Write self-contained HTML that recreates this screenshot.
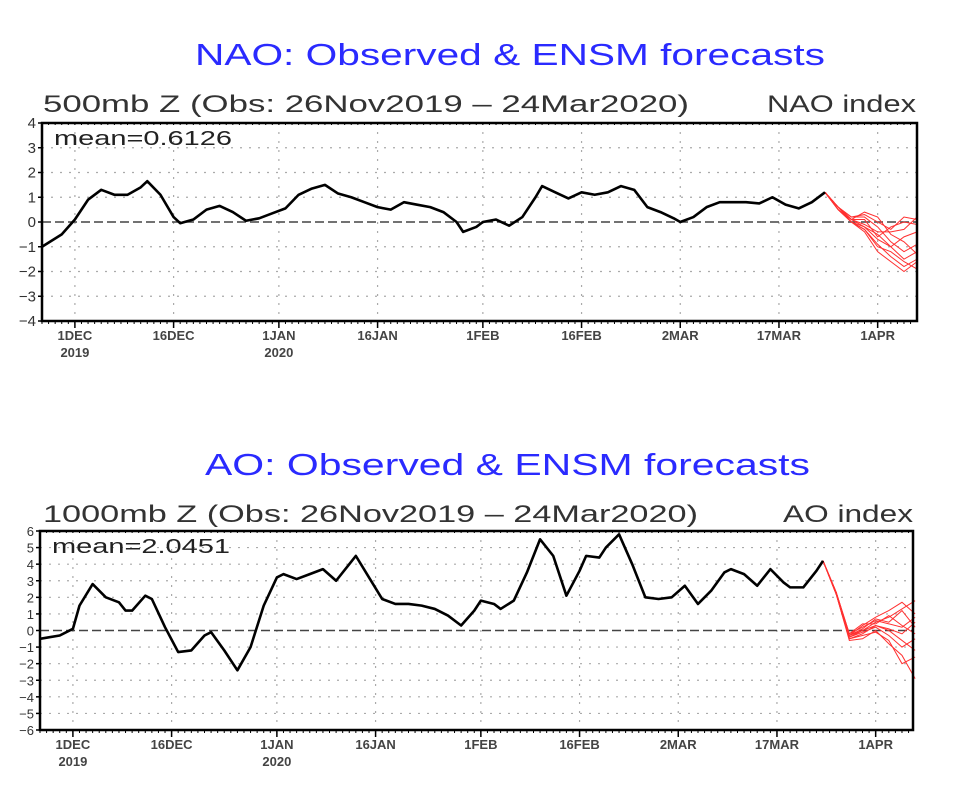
<!DOCTYPE html>
<html><head><meta charset="utf-8">
<style>
html,body{margin:0;padding:0;background:#fff;}
svg{display:block;font-family:"Liberation Sans",sans-serif;}
</style></head>
<body>
<svg id="root" width="954" height="787" viewBox="0 0 954 787">
<text x="195" y="65" font-size="31" fill="#2a2aff" textLength="630" lengthAdjust="spacingAndGlyphs">NAO: Observed &amp; ENSM forecasts</text>
<text x="43" y="112" font-size="24" fill="#333" textLength="646" lengthAdjust="spacingAndGlyphs">500mb Z (Obs: 26Nov2019 – 24Mar2020)</text>
<text x="916" y="112" font-size="24" fill="#333" text-anchor="end" textLength="149" lengthAdjust="spacingAndGlyphs">NAO index</text>
<text x="205" y="475" font-size="31" fill="#2a2aff" textLength="605" lengthAdjust="spacingAndGlyphs">AO: Observed &amp; ENSM forecasts</text>
<text x="43" y="522" font-size="24" fill="#333" textLength="655" lengthAdjust="spacingAndGlyphs">1000mb Z (Obs: 26Nov2019 – 24Mar2020)</text>
<text x="913" y="522" font-size="24" fill="#333" text-anchor="end" textLength="130" lengthAdjust="spacingAndGlyphs">AO index</text>
</svg>
<script>
const dateTickDays=[5,20,36,51,67,82,97,112,127];
const dateTickLabels=["1DEC","16DEC","1JAN","16JAN","1FEB","16FEB","2MAR","17MAR","1APR"];
const yearLabels=["2019","","2020","","","","","",""];
const naoDays=[0,3,5,7,9,11,13,15,16,18,20,21,23,25,27,29,31,33,35,37,39,41,43,45,47,49,51,53,55,57,59,61,63,64,66,67,69,71,73,75,76,78,80,82,84,86,88,90,92,94,96,97,99,101,103,105,107,109,111,113,115,117,119];
const naoValues=[-1.0,-0.5,0.1,0.9,1.3,1.1,1.1,1.4,1.65,1.1,0.2,-0.05,0.1,0.5,0.65,0.4,0.05,0.15,0.35,0.55,1.1,1.35,1.5,1.15,1.0,0.8,0.6,0.5,0.8,0.7,0.6,0.4,0.0,-0.4,-0.2,0.0,0.1,-0.15,0.2,1.0,1.45,1.2,0.95,1.2,1.1,1.2,1.45,1.3,0.6,0.4,0.15,0.0,0.2,0.6,0.8,0.8,0.8,0.75,1.0,0.7,0.55,0.8,1.2];
const aoDays=[0,3,5,6,8,10,12,13,14,16,17,19,21,23,25,26,28,30,32,34,36,37,39,41,43,45,47,48,50,52,54,56,58,60,62,64,66,67,69,70,72,74,76,78,80,82,83,85,86,88,90,92,94,96,98,100,102,104,105,107,109,111,113,114,116,118,119];
const aoValues=[-0.5,-0.3,0.1,1.5,2.8,2.0,1.7,1.2,1.2,2.1,1.9,0.2,-1.3,-1.2,-0.3,-0.1,-1.2,-2.4,-1.0,1.5,3.2,3.4,3.1,3.4,3.7,3.0,4.0,4.5,3.2,1.9,1.6,1.6,1.5,1.3,0.9,0.3,1.2,1.8,1.6,1.3,1.8,3.5,5.5,4.5,2.1,3.6,4.5,4.4,5.0,5.8,4.0,2.0,1.9,2.0,2.7,1.6,2.4,3.5,3.7,3.4,2.7,3.7,2.9,2.6,2.6,3.6,4.2];
const fcDays=[119,121,123,125,127,129,131,133];
const naoMembers=[
[1.2,0.6,0.1,-0.2,-0.5,-1.0,-1.5,-1.2],
[1.2,0.5,0.0,-0.3,-0.9,-1.4,-1.8,-1.5],
[1.2,0.6,0.2,0.3,0.0,-0.3,0.2,0.1],
[1.2,0.5,0.1,-0.1,-0.4,-0.4,-0.3,0.2],
[1.2,0.6,0.0,-0.4,-1.2,-1.6,-2.0,-1.6],
[1.2,0.6,0.2,0.2,-0.2,-0.8,-1.2,-0.9],
[1.2,0.5,0.0,-0.2,-0.7,-1.0,-0.6,-0.4],
[1.2,0.6,0.1,0.4,0.2,-0.5,-0.8,-1.3],
[1.2,0.5,0.0,-0.3,-1.0,-1.2,-1.6,-1.9],
[1.2,0.6,0.1,0.1,-0.6,-0.2,0.0,-0.1]];
const aoMembers=[
[4.2,2.3,-0.3,0.0,0.5,0.8,1.3,1.8],
[4.2,2.2,-0.5,-0.2,0.3,0.0,-0.6,-1.2],
[4.2,2.3,-0.2,0.2,0.6,0.4,0.2,0.8],
[4.2,2.2,-0.6,-0.5,0.0,-0.8,-1.5,-2.9],
[4.2,2.3,-0.3,0.3,0.8,1.2,1.7,1.0],
[4.2,2.2,-0.4,-0.1,0.2,-0.3,-1.0,-0.5],
[4.2,2.3,-0.2,0.4,0.4,0.9,0.3,-0.2],
[4.2,2.2,-0.5,-0.3,-0.1,-0.6,-2.0,-1.6],
[4.2,2.3,-0.3,0.1,0.7,0.5,1.2,0.2],
[4.2,2.2,-0.4,0.0,0.3,0.1,-0.2,0.5]];
const naoMean="mean=0.6126";
const aoMean="mean=2.0451";

const NS="http://www.w3.org/2000/svg";
const root=document.getElementById('root');
function mk(tag,attrs,parent){const e=document.createElementNS(NS,tag);for(const k in attrs)e.setAttribute(k,attrs[k]);(parent||root).appendChild(e);return e;}

function drawChart(p,days,vals,members,mean,prefix){
  const sx=d=>p.x0+d*p.pd;
  const sy=v=>p.y1-(v-p.ymin)/(p.ymax-p.ymin)*(p.y1-p.y0);
  const g=mk('g',{});
  
  
  // grid horizontal
  for(let v=p.ymin+1;v<p.ymax;v++){
    if(v===0)continue;
    const l=mk('line',{x1:p.x0,x2:p.x1,y1:sy(v),y2:sy(v),stroke:'#aaa','stroke-width':1.2,'stroke-dasharray':'2 7'},g);
    
    
  }
  dateTickDays.forEach((d,i)=>{
    const l=mk('line',{x1:sx(d),x2:sx(d),y1:p.y0,y2:p.y1,stroke:'#aaa','stroke-width':1.2,'stroke-dasharray':'2 7'},g);
    
    
    const t=mk('text',{x:sx(d),y:p.y1+19,'font-size':13,'font-weight':'bold',fill:'#444','text-anchor':'middle'},g);
    t.textContent=dateTickLabels[i];
    
    
    if(yearLabels[i]){
      const y=mk('text',{x:sx(d),y:p.y1+36,'font-size':13,'font-weight':'bold',fill:'#444','text-anchor':'middle'},g);
      y.textContent=yearLabels[i];
      
      
    }
    const tk=mk('line',{x1:sx(d),x2:sx(d),y1:p.y1,y2:p.y1+7,stroke:'#000','stroke-width':1.5},g);
    
    
  });
  // minor day ticks
  for(let d=0;p.x0+d*p.pd<=p.x1;d++){
    const tk=mk('line',{x1:sx(d),x2:sx(d),y1:p.y1,y2:p.y1+3,stroke:'#000','stroke-width':1},g);
    
    
    const tt=mk('line',{x1:sx(d),x2:sx(d),y1:p.y0,y2:p.y0+2,stroke:'#000','stroke-width':1},g);
    
    
  }
  // y ticks
  for(let v=p.ymin;v<=p.ymax;v++){
    const t=mk('text',{x:p.x0-6,y:sy(v)+5,'font-size':p.fs,fill:'#333','text-anchor':'end'},g);
    t.textContent=v<0?'\u2212'+(-v):String(v);
    
    
    const tk=mk('line',{x1:p.x0-4,x2:p.x0,y1:sy(v),y2:sy(v),stroke:'#000','stroke-width':1.5},g);
    
    
  }
  // zero line
  const z=mk('line',{x1:p.x0,x2:p.x1,y1:sy(0),y2:sy(0),stroke:'#444','stroke-width':1.5,'stroke-dasharray':'9 4'},g);
  
  
  // members
  members.forEach(m=>{
    const pl=mk('polyline',{points:m.map((v,i)=>sx(fcDays[i])+','+sy(v)).join(' '),fill:'none',stroke:'#ff3030','stroke-width':1},g);
    
    
  });
  // observed
  const ob=mk('polyline',{points:days.map((d,i)=>sx(d)+','+sy(vals[i])).join(' '),fill:'none',stroke:'#000','stroke-width':2.6,'stroke-linejoin':'round'},g);
  
  
  // frame
  const f=mk('rect',{x:p.x0,y:p.y0,width:p.x1-p.x0,height:p.y1-p.y0,fill:'none',stroke:'#000','stroke-width':2.5},g);
  
  
  const mt=mk('text',{x:p.x0+12,y:p.y0+22,'font-size':20,fill:'#222',textLength:178,lengthAdjust:'spacingAndGlyphs'},g);
  mt.textContent=mean;
  
  
}
drawChart({x0:42,x1:917,y0:123,y1:321,pd:6.58,ymin:-4,ymax:4,fs:15},naoDays,naoValues,naoMembers,naoMean,'nao');
drawChart({x0:40,x1:913,y0:531,y1:730,pd:6.58,ymin:-6,ymax:6,fs:13},aoDays,aoValues,aoMembers,aoMean,'ao');
</script>
</body></html>
